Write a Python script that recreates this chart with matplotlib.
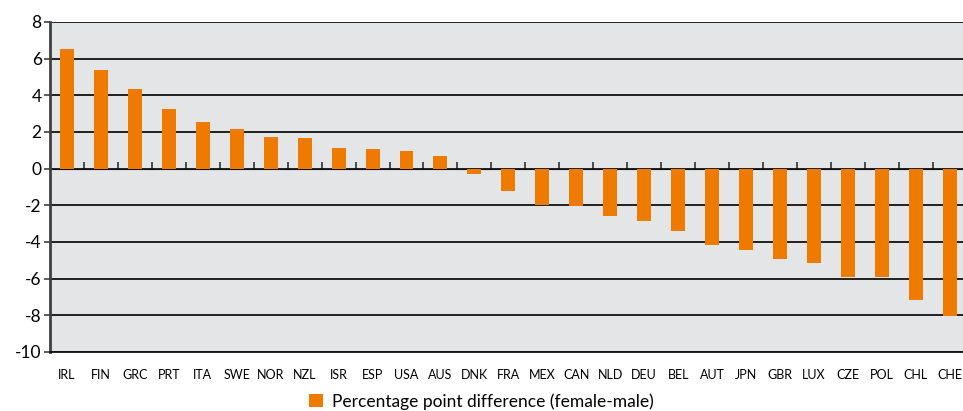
import matplotlib.pyplot as plt
import numpy as np

# Ländercodes und Werte (Prozentpunkte, weiblich - männlich)
countries = ['IRL', 'FIN', 'GRC', 'PRT', 'ITA', 'SWE', 'NOR', 'NZL', 'ISR', 'ESP', 'USA', 'AUS',
             'DNK', 'FRA', 'MEX', 'CAN', 'NLD', 'DEU', 'BEL', 'AUT', 'JPN', 'GBR', 'LUX', 'CZE',
             'POL', 'CHL', 'CHE']
diff = [6.55, 5.4, 4.37, 3.27, 2.56, 2.18, 1.75, 1.69, 1.15, 1.09, 0.98, 0.71,
        -0.27, -1.2, -2.0, -2.05, -2.6, -2.87, -3.42, -4.18, -4.45, -4.95, -5.16, -5.93,
        -5.93, -7.18, -8.05]
yticks = [8, 6, 4, 2, 0, -2, -4, -6, -8, -10]

plt.rcParams['font.family'] = ['Lato', 'DejaVu Sans']

fig = plt.figure(figsize=(9.63, 4.11), dpi=100)
ax = fig.add_axes([0.0519, 0.1436, 0.952, 0.8029])
ax.set_facecolor('#e4e5e7')

x = np.arange(len(countries))
ax.bar(x, diff, width=0.41, color='#ee7a00', zorder=3,
       label='Percentage point difference (female-male)')

ax.set_xlim(-0.5, len(countries) - 0.5)
ax.set_ylim(-10, 8)
ax.set_yticks(yticks)
ax.set_yticklabels([str(v) for v in yticks], fontsize=12.5)
ax.grid(axis='y', color='#111111', linewidth=1.3, zorder=1)
ax.tick_params(axis='y', length=4, width=1.2, color='#404040', pad=2)

ax.set_xticks(x)
ax.set_xticklabels(countries, fontsize=9)
ax.tick_params(axis='x', length=0, pad=12)

for s in ['top', 'right']:
    ax.spines[s].set_visible(False)
ax.spines['bottom'].set_color('#111111')
ax.spines['bottom'].set_linewidth(1.3)
ax.spines['left'].set_color('#404040')
ax.spines['left'].set_linewidth(2)

# Nulllinie mit Trennstrichen zwischen den Kategorien
sec = ax.secondary_xaxis(10 / 18)
sec.set_xticks(np.arange(len(countries) + 1) - 0.5)
sec.set_xticklabels([])
sec.tick_params(length=5, width=1.2, color='#333333', direction='out')
sec.spines['bottom'].set_color('#555555')
sec.spines['bottom'].set_linewidth(1.5)

fig.legend(loc='lower center', bbox_to_anchor=(0.5, -0.035), frameon=False,
           fontsize=12.5, handlelength=0.8, handleheight=0.8, handletextpad=0.5)

plt.savefig('out.png', dpi=100)
